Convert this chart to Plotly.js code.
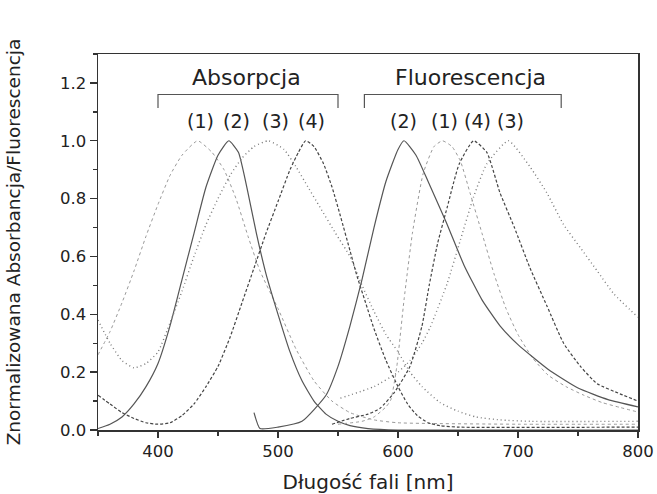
<!DOCTYPE html>
<html>
<head>
<meta charset="utf-8">
<script src="https://cdn.plot.ly/plotly-3.0.1.min.js"></script>
<style>html,body{margin:0;padding:0;background:#fff}#chart{width:657px;height:494px}</style>
</head>
<body>
<div id="chart"></div>
<script>
// ---- Absorption spectra (wavelength nm, normalized value) ----
const abs1X = [350,360,370,380,390,400,410,420,433,445,455,465,475,485,500,515,530,545,560,580,600,700,800];
const abs1Y = [0.26,0.34,0.44,0.55,0.67,0.78,0.88,0.95,1.0,0.96,0.9,0.8,0.67,0.55,0.42,0.28,0.17,0.1,0.06,0.035,0.025,0.02,0.02];

const abs2X = [350,360,370,380,390,400,410,420,430,440,450,459,467,475,482,490,500,510,520,530,540,550,560,575,600,700,800];
const abs2Y = [0.005,0.02,0.045,0.09,0.15,0.23,0.36,0.52,0.68,0.84,0.95,1.0,0.96,0.82,0.68,0.54,0.40,0.27,0.17,0.1,0.055,0.03,0.015,0.005,0.0,0.0,0.0];

const abs3X = [350,360,370,380,390,400,410,420,430,440,450,460,470,480,492,505,515,525,535,548,560,570,580,590,600,610,620,635,650,665,685,710,800];
const abs3Y = [0.38,0.3,0.24,0.215,0.23,0.27,0.37,0.48,0.6,0.71,0.8,0.88,0.94,0.98,1.0,0.97,0.91,0.84,0.77,0.68,0.6,0.5,0.41,0.33,0.27,0.2,0.15,0.095,0.065,0.045,0.035,0.03,0.03];

const abs4X = [350,360,370,380,390,400,410,420,430,440,450,460,470,480,490,500,510,517,523,530,538,545,552,560,566,573,580,590,600,608,616,625,635,650,800];
const abs4Y = [0.12,0.09,0.06,0.04,0.025,0.02,0.025,0.05,0.09,0.15,0.22,0.32,0.44,0.56,0.68,0.79,0.9,0.96,1.0,0.98,0.92,0.84,0.74,0.62,0.53,0.44,0.35,0.24,0.15,0.09,0.05,0.025,0.015,0.01,0.01];

// ---- Fluorescence spectra ----
const flu1X = [550,570,580,590,594,599,605,612,621,630,637,645,652,660,670,680,690,700,712,725,740,755,770,785,800];
const flu1Y = [0.02,0.03,0.045,0.08,0.104,0.219,0.449,0.68,0.887,0.98,1.0,0.98,0.93,0.82,0.68,0.54,0.42,0.33,0.25,0.19,0.15,0.12,0.095,0.078,0.062];

const flu2X = [480,485,500,520,540,550,560,570,580,590,600,605,615,625,640,655,670,685,700,725,750,775,800];
const flu2Y = [0.06,0.005,0.01,0.03,0.12,0.22,0.36,0.52,0.7,0.86,0.97,1.0,0.95,0.86,0.72,0.57,0.45,0.36,0.295,0.21,0.145,0.105,0.08];

const flu3X = [552,580,600,610,620,627,641,652,663,674,692,710,724,738,752,766,780,800];
const flu3Y = [0.11,0.15,0.2,0.24,0.3,0.357,0.507,0.657,0.806,0.92,1.0,0.91,0.82,0.71,0.63,0.55,0.47,0.39];

const flu4X = [545,560,575,585,597,610,620,626,633,641,651,663,674,685,697,710,724,738,752,766,785,800];
const flu4Y = [0.02,0.04,0.055,0.075,0.13,0.22,0.36,0.5,0.645,0.77,0.92,1.0,0.96,0.82,0.70,0.56,0.43,0.30,0.22,0.16,0.125,0.10];

// ---- Labels ----
const groupLabels = ["Absorpcja", "Fluorescencja"];
const groupLabelX = [474, 660];
const groupRanges = [[400, 550], [572, 736]];
const peakLabels = ["(1)", "(2)", "(3)", "(4)", "(2)", "(1)", "(4)", "(3)"];
const peakLabelX = [435, 465, 497.5, 528, 604.5, 639, 666.5, 693.5];

const styles = {
  s1: {color: '#9a9a9a', width: 1, dash: 'dot'},
  s2: {color: '#555555', width: 1.2, dash: 'solid'},
  s3: {color: '#7a7a7a', width: 1.4, dash: '1px,3px'},
  s4: {color: '#444444', width: 1.2, dash: '3px,2px'}
};
function tr(x, y, st) { return {x: x, y: y, type: 'scatter', mode: 'lines', line: Object.assign({shape: 'spline', smoothing: 0.5}, st), hoverinfo: 'skip', showlegend: false}; }

const data = [
  tr(abs1X, abs1Y, styles.s1), tr(abs2X, abs2Y, styles.s2), tr(abs3X, abs3Y, styles.s3), tr(abs4X, abs4Y, styles.s4),
  tr(flu1X, flu1Y, styles.s1), tr(flu2X, flu2Y, styles.s2), tr(flu3X, flu3Y, styles.s3), tr(flu4X, flu4Y, styles.s4)
];

const font = {family: 'DejaVu Sans, Arial, sans-serif', color: '#222', size: 16};
const annotations = [];
groupLabels.forEach((t, i) => annotations.push({x: groupLabelX[i], y: 1.22, xref: 'x', yref: 'y', text: t, showarrow: false, font: {family: font.family, size: 22, color: '#222'}}));
peakLabels.forEach((t, i) => annotations.push({x: peakLabelX[i], y: 1.07, xref: 'x', yref: 'y', text: t, showarrow: false, font: {family: font.family, size: 19, color: '#222'}}));

const shapes = groupRanges.map(r => ({
  type: 'path', xref: 'x', yref: 'y',
  path: `M ${r[0]} 1.113 L ${r[0]} 1.16 L ${r[1]} 1.16 L ${r[1]} 1.113`,
  line: {color: '#555', width: 1.2}
}));

const layout = {
  width: 657, height: 494,
  margin: {l: 98, r: 19, t: 54, b: 64},
  paper_bgcolor: '#fff', plot_bgcolor: '#fff',
  font: font,
  showlegend: false,
  xaxis: {
    range: [350, 800], tickvals: [400, 500, 600, 700, 800], ticks: 'outside', ticklen: 6, tickwidth: 1.3, tickcolor: '#333',
    minor: {dtick: 50, ticks: 'outside', ticklen: 4, tickcolor: '#333', showgrid: false},
    showline: true, linecolor: '#333', linewidth: 1.5, mirror: true, showgrid: false, zeroline: false,
    tickfont: {size: 16.5}, title: {text: 'Długość fali [nm]', font: {size: 20}, standoff: 15}
  },
  yaxis: {
    range: [0, 1.3], tickvals: [0, 0.2, 0.4, 0.6, 0.8, 1.0, 1.2], tickformat: '.1f', ticks: 'outside', ticklen: 7, tickwidth: 1.3, tickcolor: '#333',
    minor: {dtick: 0.1, ticks: 'outside', ticklen: 4, tickcolor: '#333', showgrid: false},
    showline: true, linecolor: '#333', linewidth: 1.5, mirror: true, showgrid: false, zeroline: false,
    tickfont: {size: 16.5}, title: {text: 'Znormalizowana Absorbancja/Fluorescencja', font: {size: 18.5}, standoff: 34}
  },
  annotations: annotations,
  shapes: shapes
};
Plotly.newPlot('chart', data, layout, {displayModeBar: false, staticPlot: true});
</script>
</body>
</html>
